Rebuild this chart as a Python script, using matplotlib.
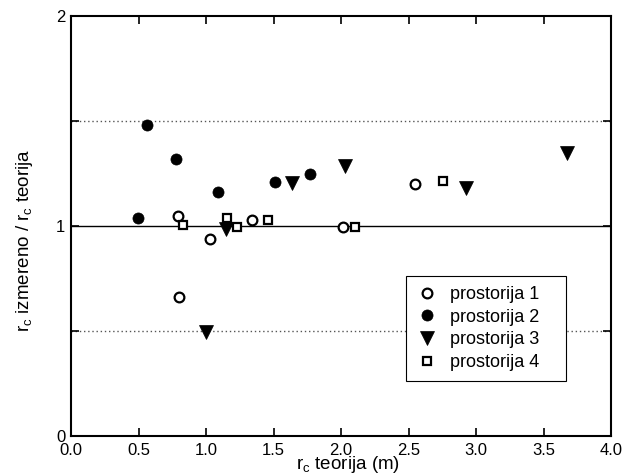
import matplotlib
matplotlib.use("Agg")
import matplotlib.pyplot as plt

plt.rcParams['font.family'] = ['Liberation Sans', 'DejaVu Sans']
plt.rcParams['mathtext.fontset'] = 'custom'
plt.rcParams['mathtext.rm'] = 'Liberation Sans'

# data
p1_x = [0.795, 0.80, 1.027, 1.338, 2.017, 2.548]
p1_y = [1.048, 0.662, 0.940, 1.029, 0.997, 1.200]
p2_x = [0.499, 0.56, 0.775, 1.087, 1.509, 1.768]
p2_y = [1.038, 1.481, 1.318, 1.163, 1.211, 1.248]
p3_x = [1.0, 1.146, 1.639, 2.03, 2.928, 3.672]
p3_y = [0.497, 0.984, 1.206, 1.286, 1.180, 1.349]
p4_x = [0.832, 1.153, 1.232, 1.462, 2.104, 2.758]
p4_y = [1.005, 1.040, 0.997, 1.029, 0.994, 1.216]
labels = ['prostorija 1', 'prostorija 2', 'prostorija 3', 'prostorija 4']
x_ticks = [0.0, 0.5, 1.0, 1.5, 2.0, 2.5, 3.0, 3.5, 4.0]
y_ticks = [0, 1, 2]

fig = plt.figure(figsize=(6.31, 4.76), dpi=100)
ax = fig.add_axes([71/631, 40/476, 540/631, 420/476])

ax.axhline(1.0, color='black', lw=1.0, zorder=1)
ax.axhline(0.5, color='#555555', lw=1.0, ls=(0, (1, 2)), zorder=1)
ax.axhline(1.5, color='#555555', lw=1.0, ls=(0, (1, 2)), zorder=1)

ax.plot(p1_x, p1_y, 'o', ms=7.0, mfc='white', mec='black', mew=1.6, ls='none', label=labels[0], zorder=3)
ax.plot(p2_x, p2_y, 'o', ms=8.0, mfc='black', mec='black', mew=0.5, ls='none', label=labels[1], zorder=3)
ax.plot(p3_x, p3_y, 'v', ms=10.0, mfc='black', mec='black', mew=0.5, ls='none', label=labels[2], zorder=3)
ax.plot(p4_x, p4_y, 's', ms=5.5, mfc='white', mec='black', mew=1.6, ls='none', label=labels[3], zorder=3)

ax.set_xlim(0, 4)
ax.set_ylim(0, 2)
ax.set_xticks(x_ticks)
ax.set_xticklabels([f"{v:.1f}" for v in x_ticks])
ax.set_yticks(y_ticks)
ax.set_yticklabels([str(v) for v in y_ticks])
ax.set_yticks([0.5, 1.5], minor=True)
ax.tick_params(which='both', direction='in', top=True, right=True, labelsize=12, length=6, width=1.2)
ax.tick_params(axis='x', pad=5)
ax.tick_params(axis='y', pad=4)
for s in ax.spines.values():
    s.set_linewidth(1.5)

ax.set_xlabel(r'r$_{\mathrm{c}}$ teorija (m)', fontsize=13.5)
ax.set_ylabel(r'r$_{\mathrm{c}}$ izmereno / r$_{\mathrm{c}}$ teorija', fontsize=13.5)
ax.xaxis.set_label_coords(0.513, -0.043)
ax.yaxis.set_label_coords(-0.067, 0.467)

leg = ax.legend(loc='upper left', bbox_to_anchor=(0.62, 0.381, 0.297, 0.0), mode='expand',
                fontsize=13, frameon=True, fancybox=False, edgecolor='black', framealpha=1,
                handlelength=1.2, handletextpad=0.7, labelspacing=0.32, borderpad=0.55,
                borderaxespad=0)
leg.get_frame().set_linewidth(0.8)

fig.savefig('out.png', dpi=100)
